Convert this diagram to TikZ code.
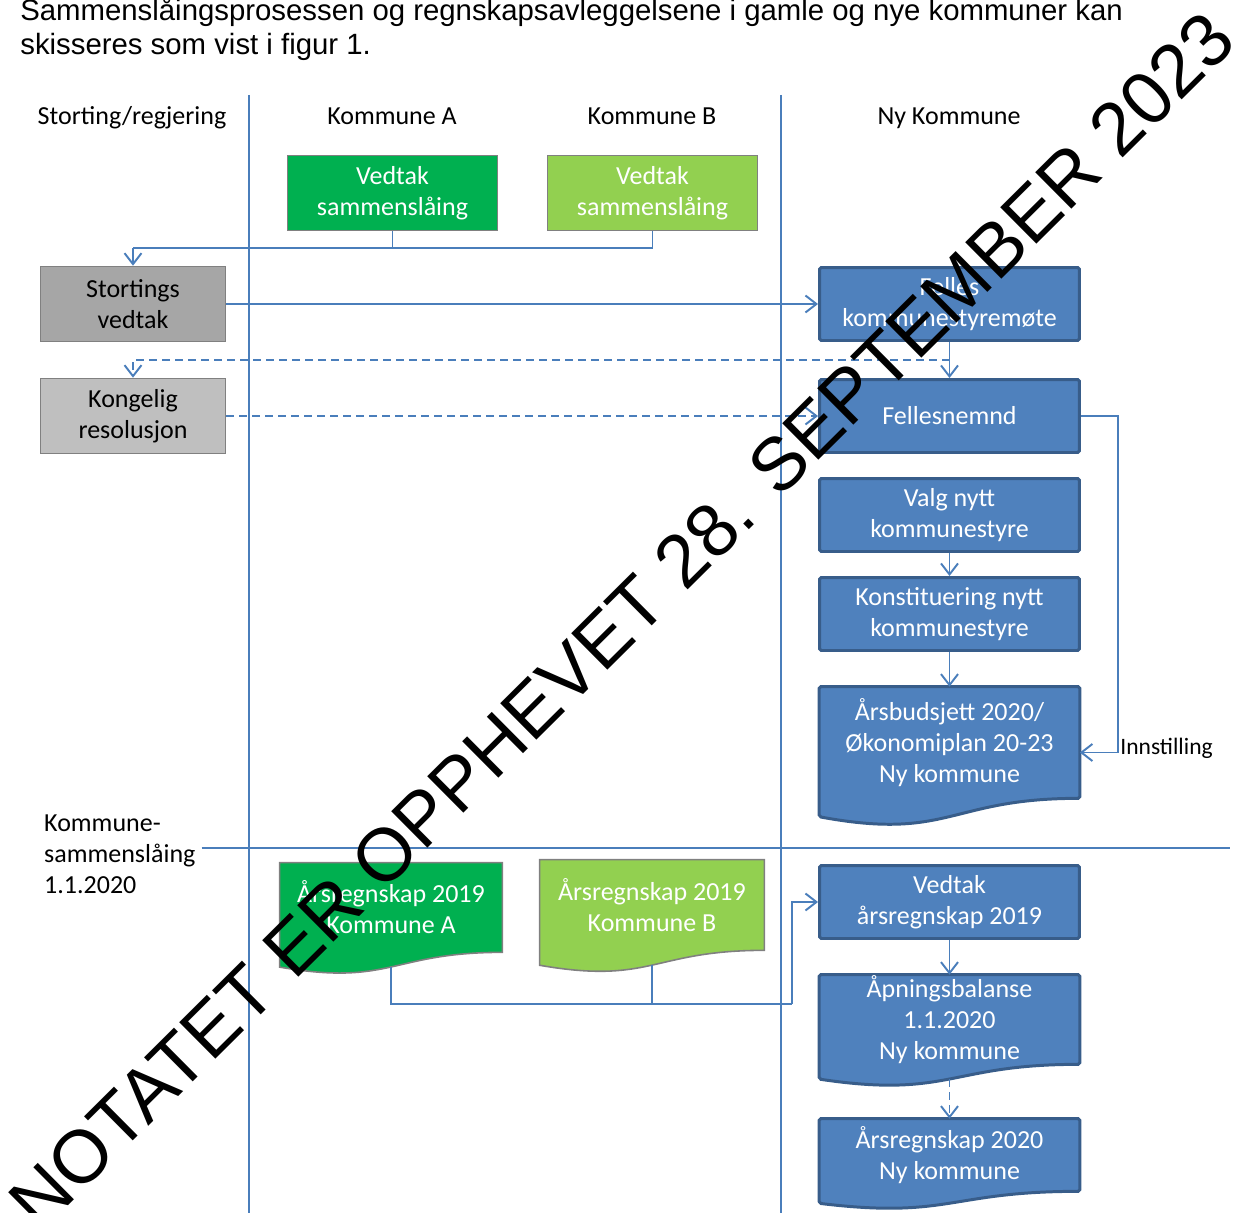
\documentclass[tikz,border=0pt]{standalone}
\usepackage{fontspec}
\setmainfont{Carlito}
\newfontfamily\arialfont{Liberation Sans}
\usetikzlibrary{arrows.meta,calc,backgrounds}

\definecolor{okgreen}{RGB}{0,176,80}
\definecolor{oklime}{RGB}{146,208,80}
\definecolor{okblue}{RGB}{79,129,189}
\definecolor{okblueedge}{RGB}{56,93,138}
\definecolor{okline}{RGB}{74,126,187}
\definecolor{okgreyA}{RGB}{166,166,166}
\definecolor{okgreyB}{RGB}{191,191,191}
\definecolor{okedge}{RGB}{128,128,128}

\tikzset{
  boks/.style={rectangle, align=center, inner sep=0pt,
    font=\fontsize{14.8}{17.6}\selectfont},
  head/.style={inner sep=0pt, anchor=base, font=\fontsize{14.8}{17.6}\selectfont},
  kommA/.style={boks, draw=okedge, line width=0.9pt, fill=okgreen, text=white,
    minimum width=4.2cm, minimum height=1.5cm},
  kommB/.style={kommA, fill=oklime},
  statA/.style={boks, draw=okedge, line width=0.9pt, fill=okgreyA,
    minimum width=3.7cm, minimum height=1.5cm},
  statB/.style={statA, fill=okgreyB},
  ny/.style={boks, draw=okblueedge, line width=1.7pt, rounded corners=1pt,
    fill=okblue, text=white, minimum width=5.2cm, minimum height=1.46cm},
  nydoc/.style={boks, text=white, minimum width=5.2cm},
  docA/.style={boks, text=white, minimum width=4.44cm},
  docB/.style={docA, minimum width=4.48cm},
  nyframe/.style={draw=okblueedge, line width=1.7pt, fill=okblue, rounded corners=1pt},
  frameA/.style={draw=okedge, line width=0.9pt, fill=okgreen},
  frameB/.style={draw=okedge, line width=0.9pt, fill=oklime},
  line/.style={draw=okline, line width=1.1pt},
  arr/.style={line, -{Straight Barb[length=0.22cm, width=0.34cm]}},
  strek/.style={dash pattern=on 0.16cm off 0.1cm}
}

% wavy bottom like an office "document" shape
\newcommand{\docframe}[2]{%
  \path[#2] let \p1=(#1.north east), \p2=(#1.south west), \n1={(\y1-\y2)/0.802} in
    (\x2,\y1) -- (\x1,\y1) -- (\x1,\y2)
    .. controls ({0.5*\x1+0.5*\x2},\y2) and ({0.5*\x1+0.5*\x2},{\y2-0.305*\n1}) ..
    (\x2,{\y1-0.934*\n1}) -- cycle;}

\begin{document}
\begin{tikzpicture}[x=0.02cm, y=-0.02cm]
\useasboundingbox (0,0) rectangle (1234,1213);

% intro text
\node[anchor=base west, inner sep=0pt, font=\arialfont\fontsize{16.7}{19.4}\selectfont] (intro1) at (20,21)
  {Sammenslåingsprosessen og regnskapsavleggelsene i gamle og nye kommuner kan};
\node[anchor=base west, inner sep=0pt, font=\arialfont\fontsize{16.7}{19.4}\selectfont] (intro2) at (20,55)
  {skisseres som vist i figur 1.};

% columns
\draw[line] (249,95) -- (249,1213);
\draw[line] (781,95) -- (781,1213);

\node[head] (hStort) at (132,125) {Storting/regjering};
\node[head] (hA) at (392,125) {Kommune A};
\node[head] (hB) at (652,125) {Kommune B};
\node[head] (hNy) at (949,125) {Ny Kommune};

% boxes
\node[kommA] (vedA) at (392.5,193) {Vedtak\\sammenslåing};
\node[kommB] (vedB) at (652.5,193) {Vedtak\\sammenslåing};
\node[statA] (stort) at (133,304) {Stortings\\vedtak};
\node[statB] (kong) at (133,416) {Kongelig\\resolusjon};
\node[ny] (felles) at (949.5,304) {Felles\\kommunestyremøte};
\node[ny] (nemnd) at (949.5,416) {Fellesnemnd};
\node[ny] (valg) at (949.5,515) {Valg nytt\\kommunestyre};
\node[ny] (konst) at (949.5,614) {Konstituering nytt\\kommunestyre};
\node[nydoc, minimum height=2.22cm] (budsj) at (949.5,742.5)
  {Årsbudsjett 2020/\\Økonomiplan 20-23\\Ny kommune};
\node[ny] (vedRegn) at (949.5,902) {Vedtak\\årsregnskap 2019};
\node[nydoc, minimum height=1.78cm] (aapn) at (949.5,1019.5)
  {Åpningsbalanse\\1.1.2020\\Ny kommune};
\node[nydoc, minimum height=1.44cm] (regn20) at (949.5,1155)
  {Årsregnskap 2020\\Ny kommune};
\node[docA, minimum height=1.78cm] (regnA) at (391,907.5) {Årsregnskap 2019\\Kommune A};
\node[docB, minimum height=1.8cm] (regnB) at (652,905) {Årsregnskap 2019\\Kommune B};

\begin{scope}[on background layer]
  \docframe{budsj}{nyframe}
  \docframe{aapn}{nyframe}
  \docframe{regn20}{nyframe}
  \docframe{regnA}{frameA}
  \docframe{regnB}{frameB}
\end{scope}

% labels
\node[anchor=west, inner sep=0pt, font=\fontsize{13.4}{16}\selectfont] (innst) at (1120,748) {Innstilling};
\node[anchor=west, align=left, font=\fontsize{14.8}{17.6}\selectfont] (sammensl) at (38,854)
  {Kommune-\\sammenslåing\\1.1.2020};
\coordinate (skille) at (1230,848);
\draw[line] (sammensl.east |- skille) -- (skille);

% connectors
\coordinate (merge) at (133,248);
\draw[line] (vedA.south) |- (merge);
\draw[line] (vedB.south) |- (merge);
\draw[arr] (merge) -- (stort.north);
\draw[arr] (stort.east) -- (felles.west);
\draw[arr] (felles.south) -- (nemnd.north);
\coordinate (dsplit) at (949.5,360);
\draw[arr, strek] (dsplit) -| (kong.north);
\draw[arr, strek] (kong.east) -- (nemnd.west);
\draw[arr] (nemnd.east) -- ++(37,0) |- ([yshift=-0.2cm]budsj.east);
\draw[arr] (valg.south) -- (konst.north);
\draw[arr] (konst.south) -- (budsj.north);

\coordinate (merge2) at (792,1004);
\draw[line] ([yshift=-0.3cm]regnA.south) |- (merge2);
\draw[line] ([yshift=-0.3cm]regnB.south) |- (merge2);
\draw[arr] (merge2) |- (vedRegn.west);
\draw[arr] (vedRegn.south) -- (aapn.north);
\draw[arr, strek] ([yshift=-0.3cm]aapn.south) -- (regn20.north);

% stamp
\node[rotate=44.8, anchor=base west, inner sep=0pt, font=\arialfont\fontsize{42.5}{50}\selectfont]
  (stempel) at (40,1234) {NOTATET ER OPPHEVET 28. SEPTEMBER 2023};
\end{tikzpicture}
\end{document}
